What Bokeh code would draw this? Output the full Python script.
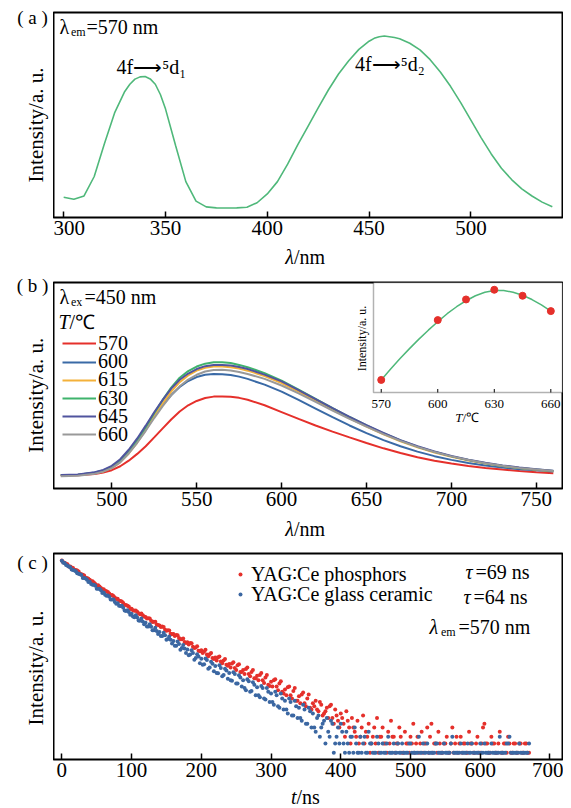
import math
from bokeh.plotting import figure
from bokeh.layouts import row, column
from bokeh.models import Label, Legend, LegendItem, FixedTicker, Range1d, BoxAnnotation
from bokeh.embed import file_html
from bokeh.resources import INLINE

SERIF = "Liberation Serif"

# ---------------- data: panel (a) excitation spectrum ----------------
a_wl = [300, 305, 310, 315, 320, 325, 330, 332.5, 335, 337.5, 340, 342.5, 345, 347.5, 350, 355,
        360, 365, 370, 375, 380, 385, 390, 395, 400, 405, 410, 415, 420, 425, 430, 435, 440, 445,
        450, 452.5, 455, 457.5, 460, 462.5, 465, 470, 475, 480, 485, 490, 495, 500, 505, 510, 515,
        520, 525, 530, 535, 540]
a_int = [9.9, 8.9, 10.5, 20, 36, 51, 61.5, 65, 67.5, 68.6, 68.8, 67.6, 65, 60, 53, 35,
         17.5, 8, 5.2, 4.7, 4.6, 4.7, 5.0, 7.2, 11.5, 17.5, 26, 35.5, 44.5, 53.5, 62.2, 70, 76.5, 82,
         86, 87.4, 88.2, 88.5, 88.2, 87.8, 87.2, 85, 81.8, 77, 71, 64, 56, 47.5, 39, 31, 24,
         18.5, 14, 10.5, 7.5, 5.2]
a_ticks = [300, 350, 400, 450, 500]

# ---------------- data: panel (b) emission spectra ----------------
b_wl = [470, 480, 490, 495, 500, 505, 510, 515, 520, 525, 530, 535, 540, 545, 550, 555,
        560, 565, 570, 575, 580, 590, 600, 610, 620, 630, 640, 650, 660, 670, 680, 690,
        700, 710, 720, 730, 740, 750, 760]
b_570 = [6.3, 6.4, 7.0, 7.8, 8.9, 10.8, 13.5, 16.8, 20.5, 24.8, 29.2, 33.5, 37.4, 40.4, 42.5, 43.9,
         44.6, 44.7, 44.5, 44.0, 43.1, 40.4, 37.1, 33.8, 30.6, 27.6, 24.8, 22.1, 19.5, 17.2, 15.2, 13.5,
         12.1, 10.9, 10.0, 9.2, 8.5, 7.9, 7.4]
b_600 = [6.5, 6.7, 7.8, 8.8, 10.6, 13.6, 18.0, 23.2, 29.0, 35.0, 40.6, 45.4, 49.3, 52.2, 54.1, 55.2,
         55.6, 55.5, 55.1, 54.3, 53.2, 50.4, 47.0, 43.0, 38.8, 34.6, 30.6, 26.9, 23.5, 20.5, 17.9, 15.7,
         13.9, 12.4, 11.2, 10.2, 9.4, 8.8, 8.2]
b_615 = [6.4, 6.5, 7.4, 8.3, 10.0, 12.8, 17.0, 22.3, 28.4, 35.0, 41.2, 47.0, 51.6, 54.9, 57.2, 58.6,
         59.2, 59.2, 58.9, 58.2, 57.2, 54.6, 51.2, 47.0, 42.6, 38.2, 34.0, 30.0, 26.3, 22.9, 20.0, 17.5,
         15.4, 13.6, 12.1, 10.9, 9.9, 9.1, 8.4]
b_630 = [6.5, 6.6, 7.6, 8.6, 10.5, 13.5, 18.0, 23.5, 29.8, 36.5, 43.0, 49.0, 53.8, 57.0, 59.2, 60.6,
         61.3, 61.3, 60.9, 60.0, 58.9, 56.0, 52.4, 48.0, 43.5, 39.0, 34.7, 30.6, 26.8, 23.3, 20.3, 17.8,
         15.6, 13.8, 12.3, 11.0, 10.0, 9.2, 8.5]
b_645 = [6.6, 6.8, 7.9, 9.0, 11.0, 14.2, 18.8, 24.3, 30.5, 37.0, 43.0, 48.5, 52.8, 55.8, 58.0, 59.4,
         60.0, 60.0, 59.7, 59.0, 58.0, 55.3, 52.0, 47.8, 43.4, 39.0, 34.8, 30.8, 27.0, 23.5, 20.5, 18.0,
         15.8, 14.0, 12.5, 11.2, 10.2, 9.4, 8.6]
b_660 = [6.0, 6.2, 7.2, 8.2, 9.9, 12.7, 17.0, 22.2, 28.0, 34.2, 40.0, 45.2, 49.6, 52.9, 55.2, 56.8,
         57.5, 57.6, 57.3, 56.6, 55.6, 53.2, 50.0, 46.2, 42.0, 37.8, 33.8, 30.0, 26.4, 23.1, 20.2, 17.7,
         15.6, 13.8, 12.3, 11.0, 10.0, 9.2, 8.5]
b_series = [("570", b_570, "#e5302b"), ("600", b_600, "#3a6aa6"), ("615", b_615, "#f4b13a"),
            ("630", b_630, "#3fb36c"), ("645", b_645, "#50549e"), ("660", b_660, "#999999")]
b_ticks = [500, 550, 600, 650, 700, 750]

# inset: peak intensity vs temperature
inset_T = [570, 600, 615, 630, 645, 660]
inset_I = [12.6, 72.6, 93.3, 103.0, 97.0, 81.6]
inset_fit_T = [570, 575, 580, 585, 590, 595, 600, 605, 610, 615, 620, 625, 630, 635, 640, 645, 650, 655, 660]
inset_fit_I = [12.6, 23.5, 34, 44, 53.5, 62.5, 71, 79, 86, 92, 97, 100.5, 102.3, 102.3, 100.5, 97.5, 93.2, 87.8, 81.6]
inset_ticks = [570, 600, 630, 660]

# ---------------- data: panel (c) decay curves (photon counts) ----------------
# channels every 4 ns from 0 ns
red_main = [8128, 7350, 6950, 6250, 5900, 5370, 5050, 4500, 4250, 3800, 3548, 3300, 2950, 2780, 2480, 2344,
            2150, 1960, 1830, 1640, 1549, 1420, 1300, 1190, 1120, 1012,
            930, 885, 800, 760, 708, 670, 600, 575, 510, 490, 470, 410, 400, 345, 339, 325, 285, 270, 240,
            237, 230, 195, 190, 165, 168,
            160, 140, 142, 120, 123, 125, 104, 108, 90, 93, 95, 78, 88, 66, 72, 75, 60, 66, 50, 56, 58, 46,
            52, 38, 43,
            46, 35, 40, 28, 31, 34, 24, 29, 19, 23, 25, 17, 21, 14, 17, 19, 12, 16, 11, 14, 15, 9, 13, 8, 11,
            7, 12, 6, 9, 5, 8, 4, 10, 5, 7, 3, 6, 9, 4, 6, 3, 5, 8, 4, 3, 6, 2, 5, 3, 4, 7, 3, 2, 5, 3, 6, 4,
            2, 3, 5, 2, 3, 4, 2, 6, 3, 2, 4, 3, 2, 5, 3, 2, 4, 2, 6, 3, 2, 4, 3, 2, 5, 2, 3, 4, 2, 3, 2, 3,
            2, 3, 2]
blue_main = [8000, 7300, 6500, 6100, 5400, 5129, 4600, 4350, 3800, 3550, 3236, 2850, 2740, 2400, 2250, 2042,
             1780, 1700, 1500, 1360, 1288, 1140, 1060, 920, 880, 813,
             700, 690, 600, 580, 550, 470, 465, 400, 385, 372, 310, 320, 275, 265, 251, 205, 220, 185, 182,
             174, 140, 150, 120, 128, 117,
             92, 110, 80, 94, 85, 62, 78, 58, 70, 63, 45, 60, 40, 52, 46, 30, 44, 29, 38, 34, 22, 33, 20, 28, 26,
             16, 24, 14, 21, 19, 11, 18, 10, 15, 14, 8, 13, 7, 12, 11, 5, 10, 6, 8, 9, 4, 7, 3, 6, 7,
             3, 5, 2, 4, 6, 2, 4, 3, 2, 5, 3, 2, 4, 2, 3, 2, 4, 2, 3, 2, 2, 3, 2, 2, 3, 2, 2, 4, 2, 2,
             3, 2, 2, 3, 2, 2, 3, 2, 2, 4, 2, 2, 3, 2, 2, 2, 3, 2, 2, 3, 2, 2, 2, 3, 2, 2, 4, 2, 2, 3,
             2, 2, 2, 3, 2, 2, 2]
# channels every 4 ns from 2 ns (up to 358 ns)
red_mid = [7500, 7100, 6300, 6000, 5450, 5250, 4600, 4400, 3850, 3700, 3300, 3150, 2750, 2650, 2350,
           2200, 2080, 1820, 1750, 1540, 1430, 1380, 1200, 1150, 1000, 950, 940, 830, 820, 720,
           660, 660, 570, 575, 500, 460, 460, 390, 395, 335, 310, 320, 270, 280, 230,
           215, 228, 185, 200, 162, 150, 172, 130, 150, 115, 108, 128, 96, 115, 86,
           80, 100, 72, 92, 66, 60, 80, 55, 72, 50, 46, 63, 41, 58, 36,
           35, 48, 30, 44, 26, 24, 35, 21, 33, 19, 17, 27, 15, 25, 13]
blue_mid = [7400, 6700, 6300, 5500, 5300, 4700, 4500, 3800, 3750, 3200, 2950, 2850, 2400, 2400, 2000,
            1850, 1800, 1500, 1500, 1250, 1150, 1150, 940, 950, 780, 720, 760, 610, 660, 520,
            470, 520, 400, 445, 340, 310, 360, 265, 305, 225, 205, 245, 172, 210, 150,
            135, 168, 112, 142, 96, 90, 118, 76, 102, 68, 63, 88, 55, 76, 49,
            46, 65, 40, 57, 35, 33, 48, 28, 42, 24, 24, 36, 21, 33, 18,
            18, 28, 15, 26, 13, 13, 21, 10, 19, 9, 9, 16, 7, 14, 6]
# channels every 4 ns from 362 ns (tail)
red_extra = [15, 13, 18, 10, 12, 9, 16, 7, 10, 6, 9, 4, 8, 3, 6, 4, 3, 6, 3, 4, 2, 4, 3, 2, 4, 3, 2, 3, 4, 2,
             3, 4, 2, 3, 2, 3, 2, 4, 3, 2, 3, 2, 7, 3, 2, 3, 2, 3, 2, 3, 2, 4, 3, 2, 3, 2, 3, 2, 3, 2,
             3, 7, 3, 2, 3, 2, 3, 2, 3, 2, 3, 2, 3, 2, 3, 2, 3, 2]
blue_extra = [6, 9, 4, 7, 3, 5, 8, 2, 4, 3, 5, 2, 3, 4, 2, 3, 2, 2, 4, 2, 3, 2, 2, 3, 2, 2, 3, 2, 2, 2,
              3, 2, 2, 2, 3, 2, 2, 2, 2, 3, 2, 2, 2, 2, 3, 2, 2, 2, 2, 3, 2, 2, 2, 2, 2, 3, 2, 2, 2, 2,
              2, 3, 2, 2, 2, 2, 2, 2, 2, 3, 4, 2, 2, 2, 2, 2, 2, 3]
c_step = 4
c_mid_start = 2
c_extra_start = 362
c_ticks = [0, 100, 200, 300, 400, 500, 600, 700]
c_labels = ["YAG∶Ce phosphors", "YAG∶Ce glass ceramic"]


def channels(start, vals):
    return [start + i * c_step for i in range(len(vals))]


RED = "#e5302b"
BLUE = "#3b67a2"
GREEN = "#4fb87a"

FRAME_W = 509
LEFT_W = 53


def base_fig(x_range, y_range, fh, top, bottom, ticks, y_type="linear"):
    p = figure(frame_width=FRAME_W, frame_height=fh, x_range=x_range, y_range=y_range,
               y_axis_type=y_type, y_axis_location=None, output_backend="svg",
               toolbar_location=None, min_border_left=0, min_border_right=1,
               min_border_top=top, min_border_bottom=bottom)
    p.xgrid.visible = False
    p.ygrid.visible = False
    p.outline_line_color = "black"
    p.outline_line_width = 2
    p.background_fill_color = "white"
    p.border_fill_color = "white"
    ax = p.xaxis[0]
    ax.ticker = FixedTicker(ticks=ticks)
    ax.axis_line_color = None
    ax.major_tick_in = 6
    ax.major_tick_out = 0
    ax.minor_tick_in = 0
    ax.minor_tick_out = 0
    ax.major_tick_line_width = 1.5
    ax.major_tick_line_color = "black"
    ax.major_label_text_font = SERIF
    ax.major_label_text_font_size = "21px"
    ax.major_label_text_color = "black"
    ax.major_label_standoff = 3
    return p


def text_fig(w, h):
    p = figure(width=w, height=h, x_range=(0, 1), y_range=(0, 1), x_axis_location=None,
               y_axis_location=None, output_backend="svg", toolbar_location=None, min_border=0)
    p.outline_line_color = None
    p.xgrid.visible = False
    p.ygrid.visible = False
    p.background_fill_color = "white"
    p.border_fill_color = "white"
    return p


def txt(p, F, x, y, text, size=20, style="normal", align="left", baseline="middle", angle=0.0):
    fl, fb = F
    p.add_layout(Label(x=x - fl, y=fb - y, x_units="screen", y_units="screen", text=text,
                       text_font=SERIF, text_font_size=f"{size}px", text_font_style=style,
                       text_align=align, text_baseline=baseline, angle=angle, text_color="black"))


def one_legend(p, fb, renderer, label, x, row_y, glyph_w, standoff):
    p.add_layout(Legend(items=[LegendItem(label=label, renderers=[renderer])],
                        location=(x, fb - row_y - 13), orientation="vertical",
                        border_line_color=None, background_fill_alpha=0, padding=0, margin=0,
                        spacing=0, glyph_width=glyph_w, glyph_height=16, label_height=16,
                        label_standoff=standoff, label_text_font=SERIF,
                        label_text_font_size="20px", label_text_color="black"))


# ---------------- panel (a) ----------------
p1 = base_fig((295, 545), (0, 100), 205, 12, 28, a_ticks)
p1.line(a_wl, a_int, line_color=GREEN, line_width=1.6)
F1 = (53, 217)
txt(p1, F1, 59, 26.5, "λ", 20)
txt(p1, F1, 70.5, 31, "em", 12)
txt(p1, F1, 86, 26.5, "=570 nm", 20)
txt(p1, F1, 116, 66, "4f⟶⁵d₁", 20)
txt(p1, F1, 354.5, 63.5, "4f⟶⁵d₂", 20)
l1 = text_fig(LEFT_W, 268)
L1 = (0, 268)
txt(l1, L1, 32, 17, "( a )", 19, align="center")
txt(l1, L1, 35, 124.5, "Intensity/a. u.", 21, align="center", angle=math.pi / 2)
b1 = text_fig(FRAME_W + 1, 23)
B1 = (53, 268)
txt(b1, B1, 293.5, 256.5, "λ", 20, style="italic", align="right")
txt(b1, B1, 293.5, 256.5, "/nm", 20)

# ---------------- panel (b) ----------------
p2 = base_fig((465.7, 765.4), (0, 100), 206, 14, 28, b_ticks)
F2 = (53, 488)
b_rows = [341.7, 360, 378.3, 396.5, 414.5, 432.5]
for (name, vals, col), ry in zip(b_series, b_rows):
    r = p2.line(b_wl, vals, line_color=col, line_width=2)
    one_legend(p2, 488, r, name, 9, ry, 34, 2)
txt(p2, F2, 59, 296.5, "λ", 20)
txt(p2, F2, 70.5, 301, "ex", 12)
txt(p2, F2, 84, 296.5, "=450 nm", 20)
txt(p2, F2, 58, 321.5, "T", 20, style="italic")
txt(p2, F2, 69, 321.5, "/℃", 20)

# inset drawn in the same frame through its own ranges
p2.extra_x_ranges = {"ix": Range1d(396.08, 666.2)}
p2.extra_y_ranges = {"iy": Range1d(-96.26, 110.3)}
p2.add_layout(BoxAnnotation(left=565.9, right=666.2, bottom=0, top=110.3, x_range_name="ix",
                            y_range_name="iy", fill_color="white", fill_alpha=1.0,
                            line_color="black", line_width=1.5, level="underlay"))
p2.segment(x0=inset_ticks, x1=inset_ticks, y0=[0] * len(inset_ticks), y1=[3.5] * len(inset_ticks),
           line_color="black", line_width=1, x_range_name="ix", y_range_name="iy")
p2.line(inset_fit_T, inset_fit_I, line_color=GREEN, line_width=1.5, x_range_name="ix", y_range_name="iy")
p2.scatter(inset_T, inset_I, size=7, fill_color=RED, line_color=RED, x_range_name="ix", y_range_name="iy")
for tk in inset_ticks:
    p2.add_layout(Label(x=tk, y=488 - 403.3, x_units="data", y_units="screen", x_range_name="ix",
                        text=str(tk), text_font=SERIF, text_font_size="13px", text_align="center",
                        text_baseline="middle", text_color="black"))
txt(p2, F2, 462, 416.5, "T", 13, style="italic", align="right")
txt(p2, F2, 462, 416.5, "/℃", 13)
txt(p2, F2, 361, 338, "Intensity/a. u.", 12, align="center", angle=math.pi / 2)

l2 = text_fig(LEFT_W, 270)
L2 = (0, 538)
txt(l2, L2, 32, 285, "( b )", 19, align="center")
txt(l2, L2, 35, 394.7, "Intensity/a. u.", 21, align="center", angle=math.pi / 2)
b2 = text_fig(FRAME_W + 1, 22)
B2 = (53, 538)
txt(b2, B2, 293.5, 528, "λ", 20, style="italic", align="right")
txt(b2, B2, 293.5, 528, "/nm", 20)

# ---------------- panel (c) ----------------
p3 = base_fig((-12, 718), (1.5, 11000), 206, 15, 26, c_ticks, y_type="log")
rr = p3.scatter(channels(0, red_main), red_main, size=4, fill_color=RED, line_color=None)
p3.scatter(channels(c_mid_start, red_mid), red_mid, size=4, fill_color=RED, line_color=None)
p3.scatter(channels(c_extra_start, red_extra), red_extra, size=4, fill_color=RED, line_color=None)
rb = p3.scatter(channels(0, blue_main), blue_main, size=4, fill_color=BLUE, line_color=None)
p3.scatter(channels(c_mid_start, blue_mid), blue_mid, size=4, fill_color=BLUE, line_color=None)
p3.scatter(channels(c_extra_start, blue_extra), blue_extra, size=4, fill_color=BLUE, line_color=None)
one_legend(p3, 759, rr, c_labels[0], 182, 572.7, 10, 6)
one_legend(p3, 759, rb, c_labels[1], 182, 593.3, 10, 6)
F3 = (53, 759)
txt(p3, F3, 465, 571.7, "τ", 20, style="italic")
txt(p3, F3, 475, 571.7, "=69 ns", 20)
txt(p3, F3, 463, 596.7, "τ", 20, style="italic")
txt(p3, F3, 473, 596.7, "=64 ns", 20)
txt(p3, F3, 429, 626.7, "λ", 20, style="italic")
txt(p3, F3, 440.5, 631, "em", 12)
txt(p3, F3, 458, 626.7, "=570 nm", 20)
l3 = text_fig(LEFT_W, 268)
L3 = (0, 806)
txt(l3, L3, 32, 561.5, "( c )", 19, align="center")
txt(l3, L3, 35, 667.5, "Intensity/a. u.", 21, align="center", angle=math.pi / 2)
b3 = text_fig(FRAME_W + 1, 21)
B3 = (53, 806)
txt(b3, B3, 296, 796, "t", 20, style="italic", align="right")
txt(b3, B3, 296, 796, "/ns", 20)

layout = column(row(l1, column(p1, b1)), row(l2, column(p2, b2)), row(l3, column(p3, b3)))
open("out.html", "w").write(file_html(layout, INLINE))
